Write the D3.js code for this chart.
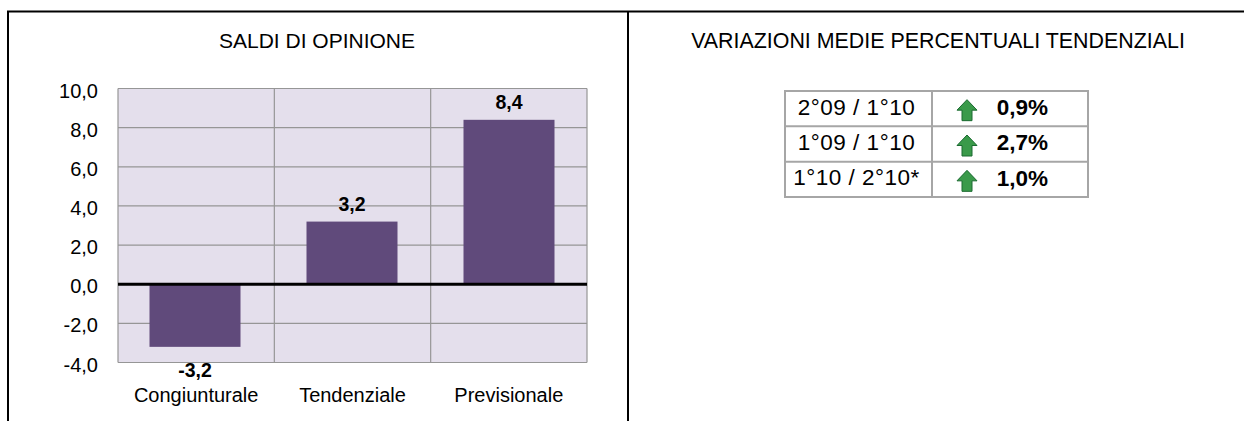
<!DOCTYPE html>
<html>
<head>
<meta charset="utf-8">
<script src="https://cdn.jsdelivr.net/npm/d3@7"></script>
<style>
html, body { margin: 0; padding: 0; background: #fff; overflow: hidden; }
text { font-family: "Liberation Sans", Arial, sans-serif; fill: #000; }
</style>
</head>
<body>
<svg id="main-svg" width="1244" height="421"></svg>
<script>
// chart values
var categories = ["Congiunturale", "Tendenziale", "Previsionale"];
var saldi = [-3.2, 3.2, 8.4];
var yTicks = [-4, -2, 0, 2, 4, 6, 8, 10];

// table values
var periodi = ["2°09 / 1°10", "1°09 / 1°10", "1°10 / 2°10*"];
var variazioni = [0.9, 2.7, 1.0];

var svg = d3.select("#main-svg");
var comma = function (v, digits) { return v.toFixed(digits).replace(".", ","); };

// outer frame
svg.append("path")
    .attr("d", "M1244,11.5H8V421M628,11.5V421")
    .attr("fill", "none")
    .attr("stroke", "#000")
    .attr("stroke-width", 2);

// titles
svg.append("text").attr("x", 317).attr("y", 48).attr("text-anchor", "middle")
    .style("font-size", "21px").text("SALDI DI OPINIONE");
svg.append("text").attr("x", 938).attr("y", 48).attr("text-anchor", "middle")
    .style("font-size", "21.4px").text("VARIAZIONI MEDIE PERCENTUALI TENDENZIALI");

// scales
var plot = {left: 118, right: 587, top: 88.5, bottom: 362.5};
var x = d3.scaleBand().domain(categories).range([plot.left, plot.right]);
var y = d3.scaleLinear().domain([-4, 10]).range([plot.bottom, plot.top]);
// bar centres sit slightly off the band centres in the original
var barX = d3.scalePoint().domain(categories).range([195, 509]);
var barWidth = 91;

var chart = svg.append("g");
chart.append("rect")
    .attr("x", plot.left).attr("y", plot.top)
    .attr("width", plot.right - plot.left).attr("height", plot.bottom - plot.top)
    .attr("fill", "#e4dfec");

// grid
chart.append("g").selectAll("line").data(yTicks).enter().append("line")
    .attr("x1", plot.left).attr("x2", plot.right)
    .attr("y1", function (d) { return y(d); }).attr("y2", function (d) { return y(d); })
    .attr("stroke", "#969696").attr("stroke-width", 1.2);
var vlines = categories.map(function (c) { return x(c); }).concat([plot.right]);
chart.append("g").selectAll("line").data(vlines).enter().append("line")
    .attr("x1", function (d) { return d; }).attr("x2", function (d) { return d; })
    .attr("y1", plot.top).attr("y2", plot.bottom)
    .attr("stroke", "#969696").attr("stroke-width", 1.2);

// bars
chart.append("g").selectAll("rect").data(saldi).enter().append("rect")
    .attr("x", function (d, i) { return barX(categories[i]) - barWidth / 2; })
    .attr("y", function (d) { return y(Math.max(d, 0)); })
    .attr("width", barWidth)
    .attr("height", function (d) { return Math.abs(y(d) - y(0)); })
    .attr("fill", "#604a7b");

// zero line
chart.append("line")
    .attr("x1", plot.left).attr("x2", plot.right)
    .attr("y1", y(0)).attr("y2", y(0))
    .attr("stroke", "#000").attr("stroke-width", 3);

// bar labels
chart.append("g").selectAll("text").data(saldi).enter().append("text")
    .attr("x", function (d, i) { return barX(categories[i]); })
    .attr("y", function (d) { return d < 0 ? y(d) + 30 : y(d) - 11; })
    .attr("text-anchor", "middle")
    .style("font-size", "19.5px").style("font-weight", "bold")
    .text(function (d) { return comma(d, 1); });

// axes
var yAxis = d3.axisLeft(y).tickValues(yTicks).tickSize(0).tickPadding(20)
    .tickFormat(function (d) { return comma(d, 1); });
var gy = svg.append("g").attr("transform", "translate(" + plot.left + ",0)").call(yAxis);
gy.select(".domain").remove();
gy.selectAll("text").attr("dy", "0.43em").style("font-size", "20px");

var xAxis = d3.axisBottom(x).tickSize(0).tickPadding(25);
var gx = svg.append("g").attr("transform", "translate(0," + plot.bottom + ")").call(xAxis);
gx.select(".domain").remove();
gx.selectAll("text").style("font-size", "20px");

// table
var tbl = {left: 785, mid: 932, right: 1088, top: 91, bottom: 197};
var rowY = d3.scaleBand().domain(periodi).range([tbl.top, tbl.bottom]);
var table = svg.append("g");
table.append("rect")
    .attr("x", tbl.left).attr("y", tbl.top)
    .attr("width", tbl.right - tbl.left).attr("height", tbl.bottom - tbl.top)
    .attr("fill", "#fff").attr("stroke", "#a6a6a6").attr("stroke-width", 2);
table.append("line")
    .attr("x1", tbl.mid).attr("x2", tbl.mid)
    .attr("y1", tbl.top).attr("y2", tbl.bottom)
    .attr("stroke", "#a6a6a6").attr("stroke-width", 2);
table.append("g").selectAll("line").data(periodi.slice(1)).enter().append("line")
    .attr("x1", tbl.left).attr("x2", tbl.right)
    .attr("y1", function (d) { return rowY(d); }).attr("y2", function (d) { return rowY(d); })
    .attr("stroke", "#a6a6a6").attr("stroke-width", 2);

var rows = table.selectAll("g.row").data(periodi).enter().append("g")
    .attr("class", "row")
    .attr("transform", function (d) { return "translate(0," + (rowY(d) + rowY.bandwidth() / 2) + ")"; });
rows.append("text")
    .attr("x", (tbl.left + tbl.mid) / 2 - 2).attr("y", -2)
    .attr("dy", "0.35em").attr("text-anchor", "middle")
    .style("font-size", "22.5px").style("letter-spacing", "0.5px")
    .text(function (d) { return d; });
rows.append("text")
    .attr("x", 1048).attr("y", -1.5)
    .attr("dy", "0.35em").attr("text-anchor", "end")
    .style("font-size", "22.5px").style("font-weight", "bold")
    .text(function (d, i) { return comma(variazioni[i], 1) + "%"; });
// up arrow icon
rows.append("path")
    .attr("transform", "translate(967,1.5)")
    .attr("d", "M0,-10.5L10,0H5V10.5H-5V0H-10Z")
    .attr("fill", "#3a9a4a").attr("stroke", "#1a6a30").attr("stroke-width", 1);
</script>
</body>
</html>
